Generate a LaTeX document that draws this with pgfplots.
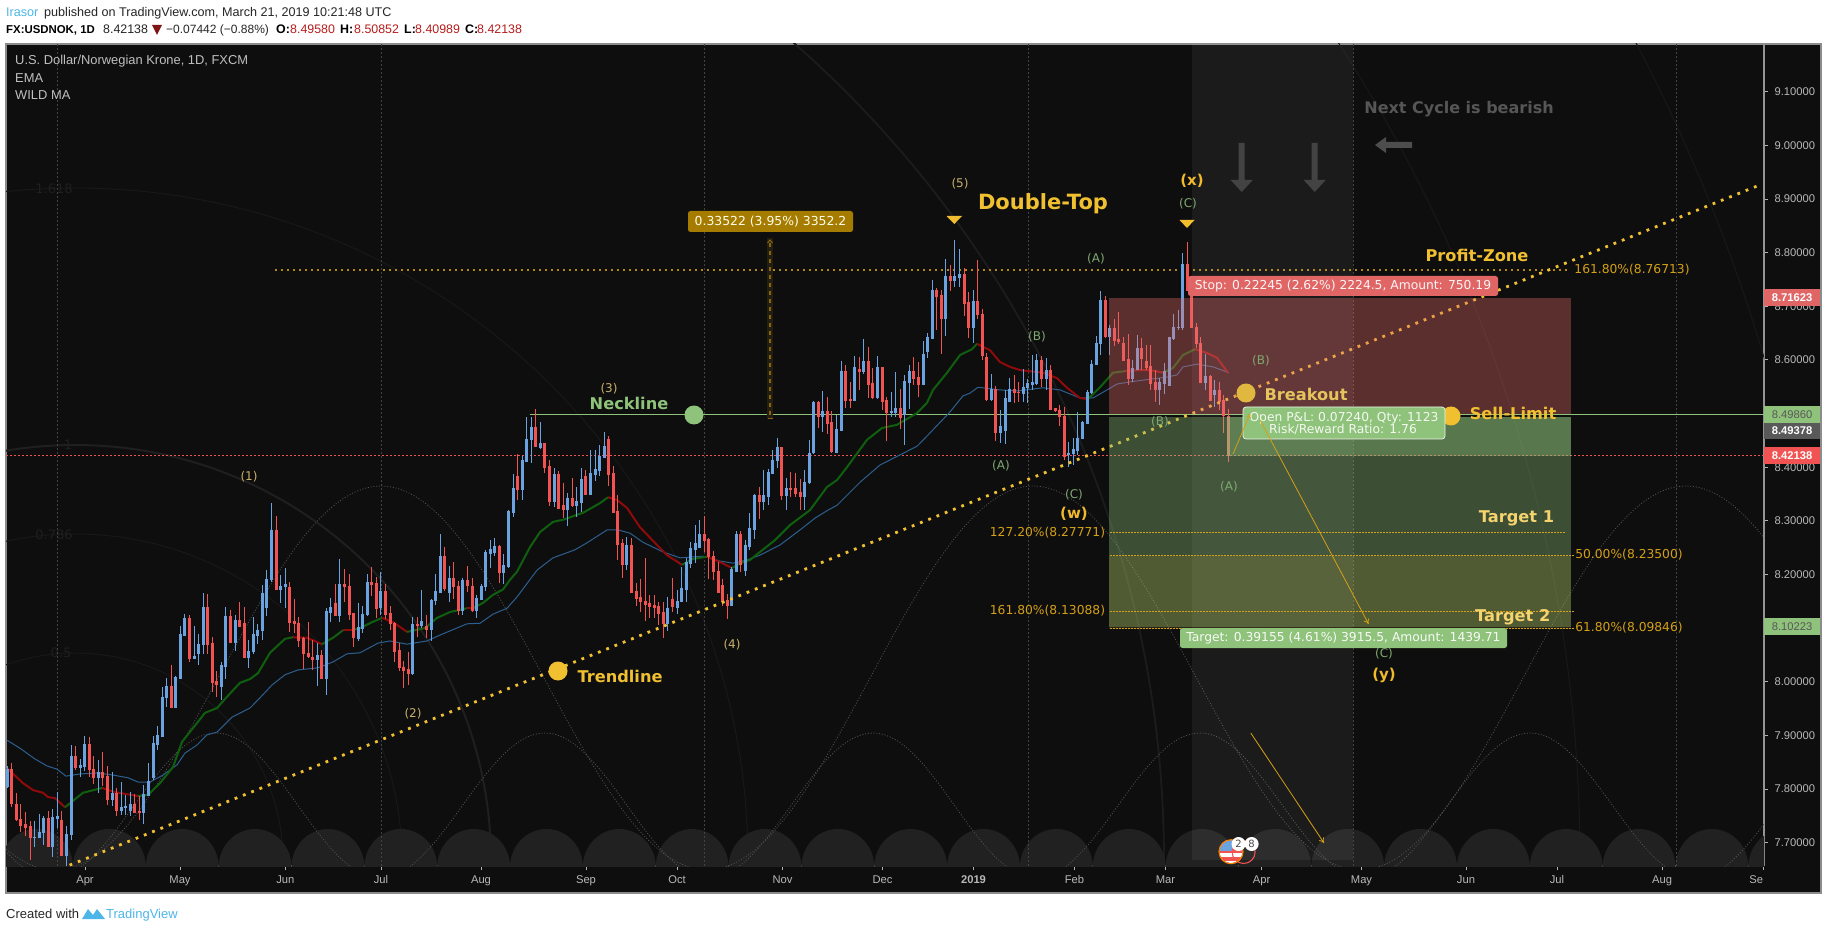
\documentclass[border=0pt]{standalone}
\usepackage{fontspec}
\usepackage{pgfplots}
\usepackage{pgfplotstable}
\pgfplotsset{compat=1.18}
\usetikzlibrary{arrows.meta}
\setmainfont{Liberation Sans}
\newfontfamily\dv{DejaVu Sans}
\definecolor{bg}{HTML}{0E0E0E}
\definecolor{upc}{HTML}{6BA3E0}
\definecolor{dnc}{HTML}{F15353}
\definecolor{gold}{HTML}{F0C030}
\definecolor{lvl}{HTML}{D4A017}
\definecolor{wv}{HTML}{C9B06A}
\definecolor{gr}{HTML}{8FC27A}
\definecolor{abc}{HTML}{7FA870}
\definecolor{emag}{HTML}{0F5F0F}
\definecolor{emar}{HTML}{8F0A0A}
\definecolor{wma}{HTML}{2C5F8F}
\definecolor{tk}{HTML}{B8B8B8}
\definecolor{tvb}{HTML}{4DB6E8}
\definecolor{hdr}{HTML}{B71C1C}
\definecolor{mtag}{HTML}{A67C00}
\definecolor{mln}{HTML}{8A6410}
\definecolor{rz}{HTML}{E76C6C}
\definecolor{stp}{HTML}{E06666}
\definecolor{bko}{HTML}{E0B840}
\newcommand{\fs}[1]{\fontsize{#1}{#1}\selectfont}
\newcommand{\pp}[2]{(axis cs:#1,{9.27096-0.0018643*#2})}
\newcommand{\hw}[4]{.. controls (axis cs:{(#1)+0.3642*((#3)-(#1))},{9.27096-0.0018643*#2}) and (axis cs:{(#3)-0.3642*((#3)-(#1))},{9.27096-0.0018643*#4}) .. (axis cs:#3,{9.27096-0.0018643*#4})}
\newcommand{\txt}[5]{\node[text=#4,inner sep=0pt,anchor=center] at \pp{#1}{#2} {\dv\fs{#3}#5};}
\newcommand{\btxt}[5]{\node[text=#4,inner sep=0pt,anchor=center] at \pp{#1}{#2} {\dv\bfseries\fs{#3}#5};}
\newcommand{\tagbox}[5]{\fill[#5,rounded corners=2.5pt] \pp{#1}{#2} rectangle \pp{#3}{#4};}
\pgfplotstableread{
i h t b l
0 7.842 7.837 7.805 7.802
6 7.741 7.711 7.709 7.691
7 7.754 7.720 7.710 7.709
8 7.750 7.746 7.719 7.696
10 7.763 7.748 7.694 7.674
11 7.795 7.750 7.746 7.728
13 7.731 7.716 7.677 7.656
14 7.882 7.862 7.715 7.705
16 7.856 7.845 7.840 7.823
17 7.899 7.884 7.843 7.833
20 7.854 7.832 7.821 7.793
23 7.832 7.793 7.780 7.769
25 7.813 7.767 7.761 7.752
26 7.789 7.769 7.765 7.752
27 7.795 7.772 7.761 7.750
30 7.808 7.791 7.757 7.735
31 7.848 7.815 7.789 7.787
32 7.899 7.886 7.821 7.817
33 7.918 7.901 7.884 7.873
34 7.990 7.972 7.899 7.897
35 8.007 7.992 7.970 7.952
37 8.011 8.009 7.953 7.953
38 8.104 8.089 8.007 8.007
39 8.126 8.119 8.087 8.085
41 8.104 8.048 8.044 8.043
42 8.089 8.070 8.052 8.031
43 8.165 8.139 8.069 8.052
47 8.037 8.031 7.992 7.966
48 8.139 8.123 8.029 8.005
50 8.125 8.115 8.074 8.057
53 8.078 8.057 8.046 8.026
54 8.121 8.089 8.056 8.052
55 8.108 8.097 8.087 8.070
56 8.180 8.165 8.095 8.078
57 8.208 8.192 8.139 8.123
58 8.333 8.283 8.190 8.186
60 8.199 8.179 8.173 8.147
61 8.212 8.182 8.177 8.138
68 8.072 8.050 8.041 7.992
70 8.138 8.132 8.007 7.975
71 8.156 8.139 8.130 8.111
73 8.229 8.182 8.123 8.111
77 8.147 8.102 8.080 8.076
78 8.141 8.126 8.100 8.091
79 8.201 8.186 8.125 8.123
82 8.205 8.169 8.138 8.125
89 8.121 8.108 8.016 8.013
91 8.171 8.113 8.106 8.100
93 8.154 8.152 8.097 8.076
94 8.201 8.169 8.151 8.143
95 8.275 8.234 8.167 8.165
97 8.216 8.194 8.167 8.149
100 8.194 8.190 8.134 8.125
103 8.162 8.156 8.134 8.119
104 8.182 8.179 8.154 8.152
105 8.246 8.242 8.177 8.169
106 8.264 8.247 8.240 8.212
107 8.268 8.253 8.242 8.234
109 8.238 8.218 8.203 8.182
110 8.320 8.318 8.216 8.212
111 8.387 8.361 8.316 8.307
113 8.421 8.413 8.359 8.339
114 8.493 8.452 8.411 8.409
115 8.493 8.475 8.451 8.408
117 8.484 8.445 8.437 8.434
120 8.398 8.387 8.337 8.326
123 8.352 8.342 8.322 8.290
125 8.363 8.337 8.328 8.307
126 8.398 8.378 8.335 8.316
128 8.432 8.389 8.350 8.348
129 8.432 8.396 8.387 8.374
130 8.441 8.421 8.395 8.383
131 8.465 8.439 8.419 8.417
136 8.270 8.255 8.218 8.208
145 8.158 8.138 8.108 8.095
147 8.171 8.151 8.138 8.126
148 8.214 8.175 8.149 8.149
149 8.231 8.223 8.173 8.149
150 8.260 8.249 8.221 8.212
151 8.292 8.259 8.247 8.221
152 8.301 8.275 8.251 8.251
159 8.214 8.210 8.143 8.141
160 8.281 8.275 8.206 8.205
162 8.264 8.255 8.208 8.197
163 8.314 8.287 8.253 8.246
164 8.350 8.348 8.285 8.266
166 8.395 8.348 8.337 8.320
167 8.397 8.391 8.346 8.330
168 8.432 8.414 8.389 8.389
169 8.455 8.438 8.412 8.399
171 8.380 8.361 8.348 8.320
175 8.395 8.373 8.346 8.320
176 8.451 8.427 8.371 8.369
177 8.523 8.522 8.428 8.425
179 8.542 8.505 8.495 8.466
182 8.497 8.471 8.427 8.427
183 8.598 8.579 8.469 8.469
186 8.607 8.587 8.525 8.523
188 8.639 8.598 8.579 8.574
191 8.607 8.587 8.531 8.527
194 8.540 8.505 8.503 8.494
195 8.577 8.510 8.503 8.494
197 8.572 8.561 8.499 8.441
198 8.590 8.579 8.559 8.509
201 8.635 8.611 8.555 8.553
202 8.650 8.643 8.615 8.604
203 8.749 8.730 8.641 8.641
206 8.788 8.756 8.678 8.645
208 8.823 8.756 8.749 8.736
209 8.807 8.760 8.754 8.736
212 8.730 8.710 8.661 8.631
216 8.574 8.546 8.527 8.523
218 8.507 8.477 8.464 8.445
219 8.544 8.529 8.469 8.443
220 8.566 8.546 8.522 8.522
223 8.583 8.550 8.537 8.522
224 8.565 8.557 8.548 8.520
225 8.609 8.559 8.555 8.544
226 8.611 8.600 8.557 8.553
228 8.604 8.581 8.565 8.544
233 8.447 8.427 8.423 8.401
234 8.455 8.434 8.425 8.404
235 8.503 8.455 8.432 8.423
236 8.486 8.484 8.453 8.453
237 8.544 8.540 8.482 8.482
238 8.600 8.593 8.539 8.537
239 8.645 8.632 8.591 8.591
240 8.728 8.712 8.630 8.609
242 8.665 8.660 8.643 8.609
247 8.600 8.585 8.565 8.559
248 8.647 8.622 8.583 8.581
253 8.566 8.559 8.546 8.516
254 8.594 8.579 8.557 8.537
255 8.643 8.643 8.553 8.553
256 8.686 8.661 8.641 8.637
257 8.693 8.661 8.660 8.656
258 8.799 8.779 8.660 8.656
263 8.611 8.570 8.559 8.544
265 8.563 8.544 8.535 8.512
}\upbars
\pgfplotstableread{
i h t b l
1 7.848 7.837 7.774 7.767
2 7.792 7.772 7.743 7.741
3 7.772 7.744 7.733 7.719
4 7.758 7.735 7.729 7.713
5 7.740 7.731 7.709 7.667
9 7.759 7.746 7.694 7.692
12 7.759 7.743 7.677 7.676
15 7.881 7.862 7.840 7.836
18 7.897 7.884 7.836 7.822
19 7.862 7.838 7.821 7.810
21 7.869 7.832 7.821 7.806
22 7.843 7.825 7.780 7.771
24 7.802 7.793 7.761 7.749
28 7.791 7.772 7.757 7.756
29 7.787 7.759 7.757 7.743
36 8.031 7.992 7.953 7.953
40 8.125 8.119 8.044 8.037
44 8.164 8.139 8.070 8.052
45 8.083 8.072 7.999 7.981
46 8.020 8.002 7.996 7.972
49 8.134 8.123 8.074 8.074
51 8.149 8.115 8.104 8.104
52 8.139 8.110 8.046 8.046
59 8.309 8.283 8.173 8.171
62 8.186 8.177 8.111 8.093
63 8.154 8.113 8.108 8.091
64 8.121 8.110 8.078 8.065
65 8.084 8.082 8.052 8.024
66 8.111 8.054 8.048 8.044
67 8.078 8.046 8.041 8.022
69 8.059 8.050 8.007 8.005
72 8.182 8.147 8.123 8.123
74 8.210 8.182 8.177 8.149
75 8.201 8.179 8.126 8.115
76 8.128 8.128 8.083 8.065
80 8.214 8.186 8.182 8.160
81 8.195 8.184 8.136 8.119
83 8.182 8.169 8.126 8.117
84 8.141 8.128 8.108 8.097
85 8.111 8.110 8.057 8.037
86 8.072 8.059 8.026 8.020
87 8.039 8.028 8.022 7.988
88 8.056 8.024 8.016 7.994
90 8.121 8.108 8.106 8.083
92 8.125 8.104 8.097 8.082
96 8.251 8.234 8.175 8.169
98 8.223 8.194 8.177 8.154
99 8.188 8.179 8.134 8.125
101 8.216 8.190 8.179 8.167
102 8.194 8.179 8.134 8.130
108 8.255 8.253 8.203 8.184
112 8.424 8.383 8.359 8.339
116 8.508 8.475 8.439 8.439
118 8.445 8.445 8.400 8.389
119 8.413 8.402 8.337 8.328
121 8.393 8.387 8.324 8.324
122 8.370 8.329 8.322 8.305
124 8.380 8.342 8.328 8.326
127 8.395 8.383 8.350 8.348
132 8.458 8.452 8.387 8.365
133 8.402 8.389 8.316 8.314
134 8.348 8.318 8.257 8.227
135 8.266 8.259 8.218 8.193
137 8.268 8.255 8.167 8.165
138 8.184 8.169 8.156 8.141
139 8.192 8.158 8.149 8.130
140 8.231 8.151 8.145 8.113
141 8.162 8.147 8.141 8.119
142 8.162 8.143 8.139 8.119
143 8.149 8.141 8.128 8.106
144 8.149 8.130 8.108 8.082
146 8.193 8.154 8.141 8.130
153 8.309 8.275 8.264 8.242
154 8.268 8.266 8.233 8.192
155 8.244 8.234 8.205 8.190
156 8.223 8.206 8.167 8.167
157 8.192 8.180 8.149 8.141
158 8.164 8.152 8.143 8.117
161 8.281 8.275 8.219 8.205
165 8.363 8.348 8.337 8.303
170 8.438 8.438 8.348 8.339
172 8.391 8.361 8.359 8.345
173 8.389 8.361 8.352 8.345
174 8.378 8.354 8.346 8.320
178 8.523 8.522 8.495 8.473
180 8.531 8.505 8.482 8.462
181 8.505 8.484 8.430 8.427
184 8.590 8.579 8.525 8.510
185 8.559 8.527 8.525 8.510
187 8.605 8.583 8.579 8.544
189 8.624 8.598 8.555 8.529
190 8.585 8.557 8.531 8.527
192 8.587 8.587 8.523 8.507
193 8.531 8.525 8.503 8.449
196 8.546 8.510 8.492 8.471
199 8.605 8.579 8.566 8.553
200 8.596 8.568 8.555 8.531
204 8.734 8.730 8.719 8.656
205 8.730 8.721 8.678 8.611
207 8.777 8.756 8.749 8.728
210 8.771 8.760 8.706 8.682
211 8.726 8.708 8.661 8.641
213 8.786 8.710 8.684 8.676
214 8.695 8.686 8.609 8.600
215 8.613 8.605 8.527 8.523
217 8.551 8.546 8.464 8.449
221 8.572 8.546 8.539 8.520
222 8.559 8.540 8.539 8.522
227 8.607 8.600 8.565 8.550
229 8.590 8.581 8.507 8.507
230 8.510 8.510 8.505 8.503
231 8.516 8.507 8.494 8.477
232 8.512 8.495 8.421 8.414
241 8.719 8.712 8.643 8.641
243 8.676 8.660 8.637 8.626
244 8.689 8.639 8.635 8.630
245 8.643 8.632 8.600 8.600
246 8.648 8.602 8.565 8.553
249 8.641 8.622 8.602 8.581
250 8.628 8.598 8.587 8.581
251 8.628 8.589 8.557 8.544
252 8.581 8.559 8.546 8.522
259 8.820 8.779 8.730 8.730
260 8.730 8.730 8.660 8.660
261 8.669 8.661 8.630 8.622
262 8.643 8.632 8.559 8.557
264 8.572 8.570 8.525 8.523
266 8.559 8.544 8.523 8.507
267 8.535 8.525 8.497 8.464
268 8.50852 8.4958 8.42138 8.40989
}\downbars
\newcommand{\candles}[2]{%
\addplot[draw=none,mark=none,forget plot,error bars/.cd,y dir=minus,y explicit,error mark=none,error bar style={line width=1pt,draw=#2,solid}] table[x expr=7.3+4.556*\thisrow{i},y=h,y error minus expr=\thisrow{h}-\thisrow{l}] {#1};
\addplot[draw=none,mark=none,forget plot,error bars/.cd,y dir=minus,y explicit,error mark=none,error bar style={line width=3pt,draw=#2,solid}] table[x expr=7.3+4.556*\thisrow{i},y=t,y error minus expr=\thisrow{t}-\thisrow{b}+0.0012] {#1};
}
\begin{document}
\begin{tikzpicture}[x=1pt,y=1pt]
\fill[white] (0,0) rectangle (1828,930);
\fill[bg,draw=black!45,line width=1.2pt] (6,37) rectangle (1821,886);
\begin{axis}[
  at={(6pt,64pt)},anchor=south west,scale only axis,width=1758pt,height=822pt,
  xmin=6,xmax=1764,ymin=7.65648,ymax=9.18893,
  axis x line*=bottom,axis y line*=right,
  axis line style={draw=black!42,line width=1.2pt,-},
  xtick={85,180,285.4,381,481,586,677,782.5,882.5,973.5,1074.5,1165.5,1261.5,1361.5,1466,1557,1662,1763},
  xticklabels={Apr,May,Jun,Jul,Aug,Sep,Oct,Nov,Dec,\textbf{2019},Feb,Mar,Apr,May,Jun,Jul,Aug,\makebox[0pt][r]{Se}},
  ytick={7.7,7.8,7.9,8.0,8.1,8.2,8.3,8.4,8.5,8.6,8.7,8.8,8.9,9.0,9.1},
  tick align=outside,major tick length=4pt,
  tick style={draw=black!30,line width=.8pt},
  ticklabel style={font=\fs{11.2},text=tk},
  /pgf/number format/assume math mode=true,
  yticklabel style={/pgf/number format/fixed,/pgf/number format/fixed zerofill,/pgf/number format/precision=5,xshift=3pt},
  xticklabel style={yshift=-2pt},
]
% Fibonacci circles
\draw[draw=white!4!bg,line width=1pt] \pp{75}{861} circle[radius=208pt];
\draw[draw=white!4!bg,line width=1pt] \pp{75}{861} circle[radius=327pt];
\draw[draw=white!7!bg,line width=2pt] \pp{75}{861} circle[radius=416pt];
\draw[draw=white!4!bg,line width=1pt] \pp{75}{861} circle[radius=673pt];
\draw[draw=white!6!bg,line width=1.8pt] \pp{75}{861} circle[radius=1089pt];
\draw[draw=white!4!bg,line width=1pt] \pp{75}{861} circle[radius=1505pt];
\draw[draw=white!4!bg,line width=1pt] \pp{75}{861} circle[radius=1762pt];
\node[text=white!7!bg,inner sep=0pt] at \pp{54}{189} {\dv\fs{13}1.618};
\node[text=white!7!bg,inner sep=0pt] at \pp{68}{445} {\dv\fs{13}1};
\node[text=white!7!bg,inner sep=0pt] at \pp{54}{535} {\dv\fs{13}0.786};
\node[text=white!7!bg,inner sep=0pt] at \pp{61}{653} {\dv\fs{13}0.5};
% domes
\pgfplotsinvokeforeach{0,...,24}{\fill[white!8!bg] (axis cs:{0.16+72.84*#1},{9.27096-0.0018643*867}) arc[start angle=180,end angle=0,x radius=36.42pt,y radius=38pt];}
% vertical lines
\addplot[forget plot,draw=white!22!bg,line width=.8pt,dash pattern=on 2pt off 2pt] coordinates {(57.5,7.6565)(57.5,9.189)};
\addplot[forget plot,draw=white!22!bg,line width=.8pt,dash pattern=on 2pt off 2pt] coordinates {(381,7.6565)(381,9.189)};
\addplot[forget plot,draw=white!22!bg,line width=.8pt,dash pattern=on 2pt off 2pt] coordinates {(704,7.6565)(704,9.189)};
\addplot[forget plot,draw=white!22!bg,line width=.8pt,dash pattern=on 2pt off 2pt] coordinates {(1028,7.6565)(1028,9.189)};
\addplot[forget plot,draw=white!22!bg,line width=.8pt,dash pattern=on 2pt off 2pt] coordinates {(1353,7.6565)(1353,9.189)};
\addplot[forget plot,draw=white!22!bg,line width=.8pt,dash pattern=on 2pt off 2pt] coordinates {(1676,7.6565)(1676,9.189)};
% sine lines
\draw[draw=white!28!bg,line width=.8pt,dash pattern=on 1pt off 1.8pt] \pp{-271}{486} \hw{-271}{486}{55}{870} \hw{55}{870}{381}{486} \hw{381}{486}{707}{870} \hw{707}{870}{1033}{486} \hw{1033}{486}{1360}{870} \hw{1360}{870}{1686}{486} \hw{1686}{486}{2012}{870};
\draw[draw=white!28!bg,line width=.8pt,dash pattern=on 1pt off 1.8pt] \pp{-112}{733} \hw{-112}{733}{52}{878} \hw{52}{878}{216}{733} \hw{216}{733}{380}{878} \hw{380}{878}{545}{733} \hw{545}{733}{709}{878} \hw{709}{878}{873}{733} \hw{873}{733}{1036}{878} \hw{1036}{878}{1200}{733} \hw{1200}{733}{1365}{878} \hw{1365}{878}{1530}{733} \hw{1530}{733}{1695}{878} \hw{1695}{878}{1860}{733};
% neckline, dotted level, last price line
\addplot[forget plot,draw=gr,line width=1pt] coordinates {(530,8.4986)(1764,8.4986)};
\addplot[forget plot,draw=dnc,line width=.8pt,dash pattern=on 2.2pt off 1.8pt] coordinates {(6,8.42138)(1764,8.42138)};
\addplot[forget plot,draw=lvl!85!black,line width=2pt,dash pattern=on 2pt off 4pt] coordinates {(275,8.76713)(1568,8.76713)};
% moving averages
\addplot[forget plot,draw=wma,line width=1pt,line join=round] coordinates {(7,7.891)(20,7.876)(35,7.856)(47,7.843)(57,7.837)(66,7.824)(80,7.828)(97,7.830)(113,7.826)(128,7.821)(138,7.813)(150,7.813)(163,7.826)(177,7.845)(185,7.867)(197,7.882)(207,7.901)(217,7.906)(232,7.934)(250,7.951)(260,7.970)(272,7.994)(285,8.013)(298,8.022)(318,8.026)(333,8.037)(347,8.052)(360,8.054)(378,8.072)(390,8.076)(407,8.070)(427,8.076)(440,8.087)(467,8.108)(480,8.109)(493,8.126)(507,8.137)(517,8.158)(537,8.208)(553,8.231)(575,8.246)(587,8.259)(607,8.283)(618,8.283)(630,8.277)(643,8.260)(663,8.242)(680,8.231)(703,8.234)(720,8.225)(733,8.221)(747,8.227)(760,8.236)(780,8.255)(800,8.283)(815,8.305)(828,8.320)(837,8.329)(860,8.372)(880,8.404)(900,8.423)(917,8.439)(928,8.460)(950,8.503)(963,8.533)(970,8.538)(978,8.549)(1000,8.544)(1017,8.542)(1043,8.548)(1060,8.544)(1080,8.529)(1093,8.529)(1107,8.544)(1117,8.555)(1130,8.559)(1150,8.564)(1167,8.568)(1177,8.572)(1183,8.587)(1197,8.592)(1213,8.587)(1229,8.576)};
\addplot[forget plot,draw=emar,line width=2pt,line join=round] coordinates {(7,7.839)(23,7.811)(33,7.798)(43,7.793)(48,7.785)(55,7.783)(65,7.766)};
\addplot[forget plot,draw=emag,line width=2pt,line join=round] coordinates {(65,7.766)(75,7.781)(83,7.793)(102,7.802)};
\addplot[forget plot,draw=emar,line width=2pt,line join=round] coordinates {(102,7.802)(115,7.794)(138,7.787)};
\addplot[forget plot,draw=emag,line width=2pt,line join=round] coordinates {(138,7.787)(148,7.789)(160,7.811)(173,7.841)(182,7.888)(197,7.923)(205,7.942)(217,7.951)(227,7.972)(240,7.998)(250,8.005)(258,8.016)(270,8.054)(285,8.080)(293,8.083)};
\addplot[forget plot,draw=emar,line width=2pt,line join=round] coordinates {(293,8.083)(307,8.082)(322,8.070)};
\addplot[forget plot,draw=emag,line width=2pt,line join=round] coordinates {(322,8.070)(333,8.082)(343,8.096)};
\addplot[forget plot,draw=emar,line width=2pt,line join=round] coordinates {(343,8.096)(352,8.096)};
\addplot[forget plot,draw=emag,line width=2pt,line join=round] coordinates {(352,8.096)(360,8.100)(372,8.111)(382,8.119)};
\addplot[forget plot,draw=emar,line width=2pt,line join=round] coordinates {(382,8.119)(393,8.111)(407,8.093)};
\addplot[forget plot,draw=emag,line width=2pt,line join=round] coordinates {(407,8.093)(425,8.100)(437,8.119)(450,8.130)(467,8.137)};
\addplot[forget plot,draw=emar,line width=2pt,line join=round] coordinates {(467,8.137)(473,8.137)};
\addplot[forget plot,draw=emag,line width=2pt,line join=round] coordinates {(473,8.137)(483,8.147)(493,8.162)(503,8.172)(510,8.190)(517,8.205)(530,8.251)(540,8.279)(553,8.298)(563,8.302)(583,8.315)(600,8.333)(608,8.344)};
\addplot[forget plot,draw=emar,line width=2pt,line join=round] coordinates {(608,8.344)(617,8.339)(627,8.324)(640,8.288)(657,8.255)(667,8.236)(682,8.218)};
\addplot[forget plot,draw=emag,line width=2pt,line join=round] coordinates {(682,8.218)(693,8.229)(707,8.233)};
\addplot[forget plot,draw=emar,line width=2pt,line join=round] coordinates {(707,8.233)(720,8.223)(732,8.212)};
\addplot[forget plot,draw=emag,line width=2pt,line join=round] coordinates {(732,8.212)(740,8.221)(750,8.227)(760,8.242)(775,8.264)(790,8.292)(810,8.320)(827,8.363)(837,8.376)(847,8.400)(867,8.451)(882,8.473)(897,8.479)(917,8.501)(927,8.520)(933,8.544)(947,8.576)(960,8.609)(972,8.620)(977,8.630)};
\addplot[forget plot,draw=emar,line width=2pt,line join=round] coordinates {(977,8.630)(990,8.618)(1000,8.596)(1010,8.587)(1020,8.581)(1043,8.576)(1057,8.566)(1067,8.548)(1080,8.529)(1088,8.527)};
\addplot[forget plot,draw=emag,line width=2pt,line join=round] coordinates {(1088,8.527)(1100,8.549)(1113,8.576)(1125,8.579)};
\addplot[forget plot,draw=emar,line width=2pt,line join=round] coordinates {(1125,8.579)(1140,8.581)(1150,8.581)(1163,8.576)};
\addplot[forget plot,draw=emag,line width=2pt,line join=round] coordinates {(1163,8.576)(1173,8.585)(1183,8.609)(1195,8.620)};
\addplot[forget plot,draw=emar,line width=2pt,line join=round] coordinates {(1195,8.620)(1207,8.613)(1217,8.604)(1228,8.576)};
% candles
\candles{\upbars}{upc}
\candles{\downbars}{dnc}
% trendline
\addplot[forget plot,draw=gold,line width=2.8pt,dash pattern=on 2.8pt off 6.1pt] coordinates {(69.6,7.658)(1757,8.924)};
% band
\addplot[forget plot,draw=none,fill=white,fill opacity=.055] coordinates {(1192,9.189)(1353,9.189)(1353,7.6677)(1192,7.6677)} --cycle;
% zones
\addplot[forget plot,draw=none,fill=rz,fill opacity=.36] coordinates {(1109,8.71623)(1571,8.71623)(1571,8.4986)(1109,8.4986)} --cycle;
\addplot[forget plot,draw=none,fill=gr,fill opacity=.36] coordinates {(1109,8.49378)(1571,8.49378)(1571,8.10223)(1109,8.10223)} --cycle;
\addplot[forget plot,draw=none,fill=gr,fill opacity=.36] coordinates {(1227,8.49378)(1571,8.49378)(1571,8.42138)(1227,8.42138)} --cycle;
\addplot[forget plot,draw=none,fill=gold,fill opacity=.12] coordinates {(1109,8.235)(1571,8.235)(1571,8.09846)(1109,8.09846)} --cycle;
% breakout
\fill[bko] \pp{1246}{393} circle[radius=9.5pt];
\btxt{1306}{394}{16.2}{bko!85!white}{Breakout}
% fib levels
\addplot[forget plot,draw=lvl,line width=.8pt,dash pattern=on 1.5pt off 1.5pt] coordinates {(1110,8.27771)(1565,8.27771)};
\addplot[forget plot,draw=lvl,line width=.8pt,dash pattern=on 1.5pt off 1.5pt] coordinates {(1110,8.23500)(1574,8.23500)};
\addplot[forget plot,draw=lvl,line width=.8pt,dash pattern=on 1.5pt off 1.5pt] coordinates {(1110,8.13088)(1574,8.13088)};
\addplot[forget plot,draw=lvl,line width=.9pt,dash pattern=on 1.5pt off 1.5pt] coordinates {(1110,8.09846)(1574,8.09846)};
% measure
\fill[mln!18!bg] \pp{767}{238} rectangle \pp{773}{419};
\draw[draw=mln,line width=1.4pt,dash pattern=on 4pt off 4pt] \pp{770}{243} -- \pp{770}{417};
\draw[draw=mln,line width=1pt] \pp{767.5}{419} -- \pp{772.5}{419};
\draw[draw=mln,line width=1pt] \pp{767.5}{243} -- \pp{770}{240} -- \pp{772.5}{243};
\tagbox{688}{211}{853}{232}{mtag}
\node[text=white!92!yellow,inner sep=0pt] at \pp{770.5}{221.5} {\dv\fs{12.4}0.33522 (3.95\%) 3352.2};
% triangles
\fill[gold!95!orange] \pp{946.5}{216} -- \pp{962}{216} -- \pp{954.3}{224} -- cycle;
\fill[gold!95!orange] \pp{1179.5}{220} -- \pp{1194.5}{220} -- \pp{1187}{228} -- cycle;
% wave labels
\txt{249}{477}{12}{wv}{(1)}
\txt{413}{714}{12}{wv}{(2)}
\txt{609}{389}{12}{wv}{(3)}
\txt{732}{645}{12}{wv}{(4)}
\txt{960}{184}{12}{wv}{(5)}
\txt{1096}{259}{12}{abc}{(A)}
\txt{1037}{337}{12}{abc}{(B)}
\txt{1001}{466}{12}{abc}{(A)}
\txt{1074}{495}{12}{abc}{(C)}
\txt{1188}{204}{12}{abc}{(C)}
\txt{1261}{361}{12}{abc}{(B)}
\txt{1160}{422}{12}{abc}{(B)}
\txt{1229}{487}{12}{abc}{(A)}
\txt{1384}{654}{12}{abc}{(C)}
\btxt{1074}{514}{15}{gold!90!orange}{(w)}
\btxt{1192}{181}{15}{gold!90!orange}{(x)}
\btxt{1384}{675}{15}{gold!90!orange}{(y)}
% big notes
\btxt{1043}{204}{21}{gold}{Double-Top}
\btxt{629}{403}{16.2}{gr}{Neckline}
\fill[gr] \pp{694}{415} circle[radius=9.5pt];
\fill[gold] \pp{558}{671} circle[radius=9.5pt];
\btxt{620}{676}{16.2}{gold}{Trendline}
\btxt{1477}{255}{16.2}{gold}{Profit-Zone}
\fill[gold] \pp{1451}{416} circle[radius=9.5pt];
\btxt{1513}{413}{16.2}{gold}{Sell-Limit}
\btxt{1516.5}{518}{16.2}{gold!70!white}{Target 1}
\btxt{1512.7}{617}{16.2}{gold!70!white}{Target 2}
\btxt{1459}{109}{16}{white!30!bg}{Next Cycle is bearish}
% grey arrows
\fill[white!22!bg] \pp{1238.7}{143} -- \pp{1244.7}{143} -- \pp{1244.7}{180} -- \pp{1252.7}{180} -- \pp{1241.7}{192} -- \pp{1230.7}{180} -- \pp{1238.7}{180} -- cycle;
\fill[white!22!bg] \pp{1311.7}{143} -- \pp{1317.7}{143} -- \pp{1317.7}{180} -- \pp{1325.7}{180} -- \pp{1314.7}{192} -- \pp{1303.7}{180} -- \pp{1311.7}{180} -- cycle;
\fill[white!26!bg] \pp{1412}{142} -- \pp{1386}{142} -- \pp{1386}{137} -- \pp{1375}{145} -- \pp{1386}{153} -- \pp{1386}{148} -- \pp{1412}{148} -- cycle;
% level labels
\txt{1632}{270}{12.3}{lvl}{161.80\%(8.76713)}
\txt{1047.5}{533}{12.3}{lvl}{127.20\%(8.27771)}
\txt{1047.5}{611}{12.3}{lvl}{161.80\%(8.13088)}
\txt{1629}{555}{12.3}{lvl}{50.00\%(8.23500)}
\txt{1629}{628}{12.3}{lvl}{61.80\%(8.09846)}
% tags
\tagbox{1188}{276}{1498}{296}{stp}
\node[text=white!93!stp,inner sep=0pt] at \pp{1343}{286} {\dv\fs{12.3}Stop: 0.22245 (2.62\%) 2224.5, Amount: 750.19};
\fill[gr,draw=white!85!gr,line width=.7pt,rounded corners=3pt] \pp{1243}{407} rectangle \pp{1445}{439};
\node[text=white!90!gr,inner sep=0pt] at \pp{1344}{418} {\dv\fs{12.3}Open P\&L: 0.07240, Qty: 1123};
\node[text=white!90!gr,inner sep=0pt] at \pp{1343}{429.5} {\dv\fs{12.3}Risk/Reward Ratio: 1.76};
\tagbox{1180}{628}{1507}{648}{gr}
\node[text=white!93!gr,inner sep=0pt] at \pp{1343.5}{638} {\dv\fs{12.3}Target: 0.39155 (4.61\%) 3915.5, Amount: 1439.71};
% yellow arrows
\draw[draw=lvl,line width=.8pt,-{To[length=4pt,width=5pt]}] \pp{1233}{454} -- \pp{1250}{414};
\draw[draw=lvl,line width=.8pt,-{To[length=5pt,width=6pt]}] \pp{1260}{420} -- \pp{1368.6}{624};
\draw[draw=lvl,line width=.8pt,-{To[length=5pt,width=6pt]}] \pp{1250.8}{733} -- \pp{1324}{843};
% flag
\begin{scope}
\clip \pp{1231}{851.7} circle[radius=11.5pt];
\fill[white] \pp{1215}{836} rectangle \pp{1250}{868};
\fill[dnc] \pp{1215}{849} rectangle \pp{1250}{853};
\fill[dnc] \pp{1215}{857} rectangle \pp{1250}{861};
\fill[upc] \pp{1215}{836} rectangle \pp{1232}{851};
\end{scope}
\draw[draw=dnc,line width=1.1pt] \pp{1243.6}{852} circle[radius=11.5pt];
\draw[draw=orange,line width=1.1pt] \pp{1231}{851.7} circle[radius=12pt];
\fill[white] \pp{1238.5}{844} circle[radius=7pt];
\fill[white] \pp{1251.6}{844} circle[radius=7pt];
\node[text=black!70,inner sep=0pt] at \pp{1238.5}{844} {\dv\fs{10}2};
\node[text=black!70,inner sep=0pt] at \pp{1251.6}{844} {\dv\fs{10}8};
\end{axis}
% legend text at the plot's corner
\node[anchor=west,text=white!75!black,inner sep=0pt] at (15,869) {\fs{12.9}U.S. Dollar/Norwegian Krone, 1D, FXCM};
\node[anchor=west,text=white!75!black,inner sep=0pt] at (15,852) {\fs{12.9}EMA};
\node[anchor=west,text=white!75!black,inner sep=0pt] at (15,834.5) {\fs{12.9}WILD MA};
% price tags
\fill[stp] (1764,624) rectangle (1820,641);
\node[text=white,inner sep=0pt] at (1792,632.5) {\bfseries\fs{11.2}8.71623};
\fill[gr] (1764,507) rectangle (1820,524);
\node[text=black!65,inner sep=0pt] at (1792,515.5) {\fs{11.2}8.49860};
\fill[black!65] (1764,491) rectangle (1820,507);
\node[text=white!92,inner sep=0pt] at (1792,499) {\bfseries\fs{11.2}8.49378};
\fill[dnc] (1764,466) rectangle (1820,483);
\node[text=white,inner sep=0pt] at (1792,474.5) {\bfseries\fs{11.2}8.42138};
\fill[gr] (1764,295) rectangle (1820,312);
\node[text=black!65,inner sep=0pt] at (1792,303.5) {\fs{11.2}8.10223};
% header
\node[anchor=base west,text=tvb,inner sep=0pt] at (6,913) {\fs{12.6}Irasor};
\node[anchor=base west,text=black!85,inner sep=0pt] at (44,913) {\fs{12.6}published on TradingView.com, March 21, 2019 10:21:48 UTC};
\node[anchor=base west,text=black,inner sep=0pt] at (6,896) {\bfseries\fs{11.4}FX:USDNOK, 1D};
\node[anchor=base west,text=black!85,inner sep=0pt] at (103,896) {\fs{12.4}8.42138};
\fill[hdr!70!black] (152,905) -- (162,905) -- (157,895) -- cycle;
\node[anchor=base west,text=black!85,inner sep=0pt] at (166,896) {\fs{12}−0.07442 (−0.88\%)};
\node[anchor=base west,text=black,inner sep=0pt] at (276,896) {\bfseries\fs{12.4}O:};
\node[anchor=base west,text=hdr,inner sep=0pt] at (290,896) {\fs{12.4}8.49580};
\node[anchor=base west,text=black,inner sep=0pt] at (340,896) {\bfseries\fs{12.4}H:};
\node[anchor=base west,text=hdr,inner sep=0pt] at (354,896) {\fs{12.4}8.50852};
\node[anchor=base west,text=black,inner sep=0pt] at (404,896) {\bfseries\fs{12.4}L:};
\node[anchor=base west,text=hdr,inner sep=0pt] at (415,896) {\fs{12.4}8.40989};
\node[anchor=base west,text=black,inner sep=0pt] at (465,896) {\bfseries\fs{12.4}C:};
\node[anchor=base west,text=hdr,inner sep=0pt] at (477,896) {\fs{12.4}8.42138};
% footer
\node[anchor=base west,text=black!85,inner sep=0pt] at (6,12) {\fs{13}Created with};
\fill[tvb] (82,11) -- (88,21) -- (93,15) -- (97,21) -- (105,11) -- cycle;
\node[anchor=base west,text=tvb,inner sep=0pt] at (106,12) {\fs{13}TradingView};
\end{tikzpicture}
\end{document}
